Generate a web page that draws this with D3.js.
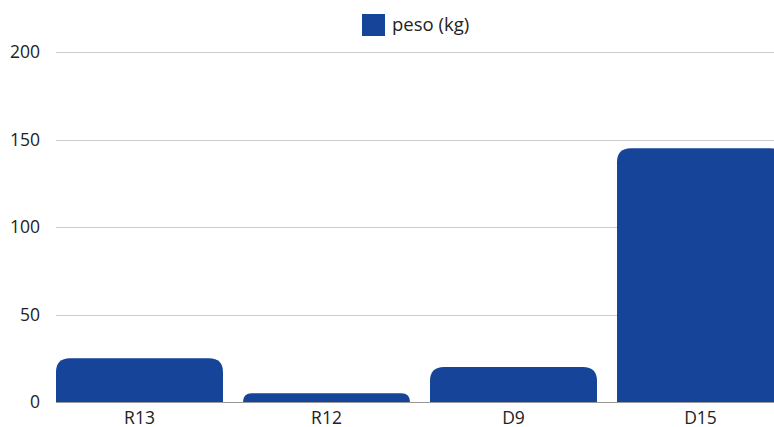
<!DOCTYPE html>
<html lang="en">
<head>
    <meta charset="UTF-8">
    <title>peso (kg)</title>
    <script src="https://d3js.org/d3.v7.min.js"></script>
    <style>
        body { margin: 0; background: #fff; }
        svg { display: block; font-family: "Open Sans", sans-serif; }
        .tick text { fill: #222; font-size: 17.5px; font-family: "Open Sans", sans-serif; }
    </style>
</head>
<body>
    <svg class="chart" width="774" height="427"></svg>

    <script>
        const categories = ["R13", "R12", "D9", "D15"];
        const values = [25, 5, 20, 145];
        const yTicks = [0, 50, 100, 150, 200];
        const seriesName = "peso (kg)";
        const barColor = "#154498";

        const svg = d3.select(".chart");

        const x = d3.scaleBand()
            .domain(categories)
            .range([46, 794])
            .paddingInner(0.107)
            .paddingOuter(0.0535);

        const y = d3.scaleLinear().domain([0, 200]).range([402, 52]);

        // Gridlines
        svg.append("g")
            .selectAll("line")
            .data(yTicks)
            .join("line")
            .attr("x1", 56)
            .attr("x2", 774)
            .attr("y1", d => Math.round(y(d)) + 0.5)
            .attr("y2", d => Math.round(y(d)) + 0.5)
            .attr("stroke", d => d === 0 ? "#999" : "#ccc");

        // Y axis labels
        const yAxis = svg.append("g")
            .attr("transform", "translate(40,0)")
            .call(d3.axisLeft(y).tickValues(yTicks).tickSize(0).tickPadding(0));
        yAxis.select(".domain").remove();

        // Bars with rounded top corners
        function barPath(x0, w, yTop, yBase, r) {
            const h = yBase - yTop;
            r = Math.min(r, h, w / 2);
            return `M${x0},${yBase}V${yTop + r}Q${x0},${yTop} ${x0 + r},${yTop}` +
                   `H${x0 + w - r}Q${x0 + w},${yTop} ${x0 + w},${yTop + r}V${yBase}Z`;
        }

        svg.append("g")
            .selectAll("path")
            .data(categories.map((c, i) => ({ c, v: values[i] })))
            .join("path")
            .attr("fill", barColor)
            .attr("d", d => barPath(x(d.c), x.bandwidth(), y(d.v), y(0), 14));

        // X axis labels
        const xAxis = svg.append("g")
            .attr("transform", "translate(0,410)")
            .call(d3.axisBottom(x).tickSize(0).tickPadding(2));
        xAxis.select(".domain").remove();

        // Legend
        const legend = svg.append("g").attr("transform", "translate(362,14)");
        legend.append("rect")
            .attr("width", 23)
            .attr("height", 22)
            .attr("fill", barColor);
        legend.append("text")
            .attr("x", 30)
            .attr("y", 17)
            .attr("fill", "#222")
            .style("font-size", "18.5px")
            .text(seriesName);
    </script>
</body>
</html>
